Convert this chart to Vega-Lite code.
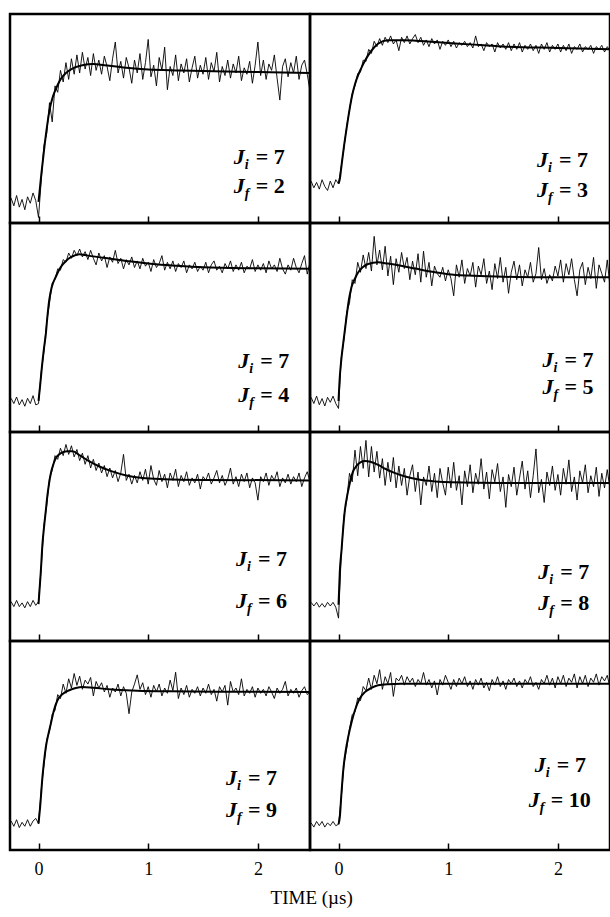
{
"$schema":"https://vega.github.io/schema/vega-lite/v6.json",
"background":"white",
"padding":{"left":8,"top":12,"right":0,"bottom":0},
"title":{"text":"TIME (µs)","orient":"bottom","anchor":"middle","font":"Liberation Serif","fontSize":19,"fontWeight":"normal","color":"black","offset":10},
"datasets":{
"A":[{"t":-0.25,"v":0.03},{"t":-0.225,"v":-0.03},{"t":-0.2,"v":0.05},{"t":-0.175,"v":-0.04},{"t":-0.15,"v":0.02},{"t":-0.125,"v":-0.06},{"t":-0.1,"v":0.04},{"t":-0.075,"v":-0.01},{"t":-0.05,"v":0.07},{"t":-0.025,"v":0.01},
{"t":0,"v":-0.12},{"t":0.025,"v":0.17},{"t":0.05,"v":0.44},{"t":0.075,"v":0.53},{"t":0.1,"v":0.77},{"t":0.125,"v":0.62},{"t":0.15,"v":0.9},{"t":0.175,"v":0.85},{"t":0.2,"v":1.02},{"t":0.225,"v":0.93},
{"t":0.25,"v":1.08},{"t":0.275,"v":0.95},{"t":0.3,"v":1.11},{"t":0.325,"v":0.99},{"t":0.35,"v":1.14},{"t":0.375,"v":1.0},{"t":0.4,"v":1.16},{"t":0.425,"v":1.03},{"t":0.45,"v":1.12},{"t":0.475,"v":0.98},
{"t":0.5,"v":1.15},{"t":0.525,"v":1.02},{"t":0.55,"v":1.1},{"t":0.575,"v":0.99},{"t":0.6,"v":1.13},{"t":0.625,"v":1.05},{"t":0.65,"v":0.94},{"t":0.675,"v":1.11},{"t":0.7,"v":1.24},{"t":0.725,"v":1.0},
{"t":0.75,"v":1.09},{"t":0.775,"v":0.96},{"t":0.8,"v":1.12},{"t":0.825,"v":1.04},{"t":0.85,"v":0.92},{"t":0.875,"v":1.1},{"t":0.9,"v":1.0},{"t":0.925,"v":1.15},{"t":0.95,"v":0.95},{"t":0.975,"v":1.08},
{"t":1,"v":1.26},{"t":1.025,"v":0.97},{"t":1.05,"v":1.06},{"t":1.075,"v":0.9},{"t":1.1,"v":1.12},{"t":1.125,"v":1.02},{"t":1.15,"v":1.2},{"t":1.175,"v":0.87},{"t":1.2,"v":1.05},{"t":1.225,"v":0.98},
{"t":1.25,"v":1.14},{"t":1.275,"v":0.94},{"t":1.3,"v":1.07},{"t":1.325,"v":1.0},{"t":1.35,"v":1.11},{"t":1.375,"v":0.93},{"t":1.4,"v":1.04},{"t":1.425,"v":1.13},{"t":1.45,"v":0.96},{"t":1.475,"v":1.06},
{"t":1.5,"v":0.99},{"t":1.525,"v":1.12},{"t":1.55,"v":0.95},{"t":1.575,"v":1.08},{"t":1.6,"v":1.01},{"t":1.625,"v":1.16},{"t":1.65,"v":0.93},{"t":1.675,"v":1.05},{"t":1.7,"v":0.98},{"t":1.725,"v":1.1},
{"t":1.75,"v":0.96},{"t":1.775,"v":1.07},{"t":1.8,"v":1.0},{"t":1.825,"v":1.13},{"t":1.85,"v":0.94},{"t":1.875,"v":1.04},{"t":1.9,"v":0.99},{"t":1.925,"v":1.09},{"t":1.95,"v":0.92},{"t":1.975,"v":1.06},
{"t":2,"v":1.24},{"t":2.025,"v":0.98},{"t":2.05,"v":1.1},{"t":2.075,"v":0.95},{"t":2.1,"v":1.07},{"t":2.125,"v":1.02},{"t":2.15,"v":1.14},{"t":2.175,"v":0.96},{"t":2.2,"v":0.79},{"t":2.225,"v":1.05},
{"t":2.25,"v":1.11},{"t":2.275,"v":0.97},{"t":2.3,"v":1.08},{"t":2.325,"v":1.0},{"t":2.35,"v":1.13},{"t":2.375,"v":0.95},{"t":2.4,"v":1.06},{"t":2.425,"v":1.1},{"t":2.45,"v":0.99},{"t":2.475,"v":0.86}],
"B":[{"t":-0.25,"v":0.02},{"t":-0.225,"v":-0.03},{"t":-0.2,"v":0.01},{"t":-0.175,"v":-0.04},{"t":-0.15,"v":0.03},{"t":-0.125,"v":-0.02},{"t":-0.1,"v":-0.05},{"t":-0.075,"v":0.02},{"t":-0.05,"v":-0.03},{"t":-0.025,"v":0.03},
{"t":0,"v":0.0},{"t":0.025,"v":0.13},{"t":0.05,"v":0.27},{"t":0.075,"v":0.43},{"t":0.1,"v":0.55},{"t":0.125,"v":0.67},{"t":0.15,"v":0.73},{"t":0.175,"v":0.82},{"t":0.2,"v":0.83},{"t":0.225,"v":0.92},
{"t":0.25,"v":0.91},{"t":0.275,"v":1.0},{"t":0.3,"v":0.97},{"t":0.325,"v":1.06},{"t":0.35,"v":1.02},{"t":0.375,"v":1.08},{"t":0.4,"v":1.03},{"t":0.425,"v":1.09},{"t":0.45,"v":1.05},{"t":0.475,"v":1.1},
{"t":0.5,"v":1.04},{"t":0.525,"v":1.07},{"t":0.55,"v":0.99},{"t":0.575,"v":1.09},{"t":0.6,"v":1.05},{"t":0.625,"v":1.1},{"t":0.65,"v":1.04},{"t":0.675,"v":1.08},{"t":0.7,"v":1.11},{"t":0.725,"v":1.05},
{"t":0.75,"v":1.09},{"t":0.775,"v":1.03},{"t":0.8,"v":1.07},{"t":0.825,"v":1.02},{"t":0.85,"v":1.08},{"t":0.875,"v":1.04},{"t":0.9,"v":1.07},{"t":0.925,"v":1.0},{"t":0.95,"v":1.06},{"t":0.975,"v":1.03},
{"t":1,"v":1.07},{"t":1.025,"v":1.02},{"t":1.05,"v":1.06},{"t":1.075,"v":1.01},{"t":1.1,"v":1.05},{"t":1.125,"v":1.03},{"t":1.15,"v":1.06},{"t":1.175,"v":1.02},{"t":1.2,"v":1.05},{"t":1.225,"v":1.01},
{"t":1.25,"v":1.1},{"t":1.275,"v":1.02},{"t":1.3,"v":1.04},{"t":1.325,"v":0.99},{"t":1.35,"v":1.05},{"t":1.375,"v":1.02},{"t":1.4,"v":1.04},{"t":1.425,"v":0.98},{"t":1.45,"v":1.05},{"t":1.475,"v":1.01},
{"t":1.5,"v":1.04},{"t":1.525,"v":1.0},{"t":1.55,"v":1.05},{"t":1.575,"v":0.99},{"t":1.6,"v":1.04},{"t":1.625,"v":1.0},{"t":1.65,"v":1.05},{"t":1.675,"v":0.98},{"t":1.7,"v":1.03},{"t":1.725,"v":1.0},
{"t":1.75,"v":1.04},{"t":1.775,"v":0.99},{"t":1.8,"v":1.03},{"t":1.825,"v":0.97},{"t":1.85,"v":1.04},{"t":1.875,"v":1.0},{"t":1.9,"v":1.05},{"t":1.925,"v":0.98},{"t":1.95,"v":1.03},{"t":1.975,"v":1.0},
{"t":2,"v":1.04},{"t":2.025,"v":0.98},{"t":2.05,"v":1.03},{"t":2.075,"v":0.99},{"t":2.1,"v":1.04},{"t":2.125,"v":0.97},{"t":2.15,"v":1.02},{"t":2.175,"v":1.0},{"t":2.2,"v":1.04},{"t":2.225,"v":0.98},
{"t":2.25,"v":1.02},{"t":2.275,"v":1.0},{"t":2.3,"v":1.03},{"t":2.325,"v":0.97},{"t":2.35,"v":1.02},{"t":2.375,"v":1.0},{"t":2.4,"v":1.03},{"t":2.425,"v":0.98},{"t":2.45,"v":1.02},{"t":2.475,"v":0.99}],
"C":[{"t":-0.25,"v":0.02},{"t":-0.225,"v":-0.02},{"t":-0.2,"v":0.03},{"t":-0.175,"v":-0.03},{"t":-0.15,"v":0.01},{"t":-0.125,"v":-0.04},{"t":-0.1,"v":0.02},{"t":-0.075,"v":-0.02},{"t":-0.05,"v":0.04},{"t":-0.025,"v":-0.03},
{"t":0,"v":-0.02},{"t":0.025,"v":0.22},{"t":0.05,"v":0.38},{"t":0.075,"v":0.6},{"t":0.1,"v":0.74},{"t":0.125,"v":0.89},{"t":0.15,"v":0.92},{"t":0.175,"v":1.0},{"t":0.2,"v":0.99},{"t":0.225,"v":1.07},
{"t":0.25,"v":1.05},{"t":0.275,"v":1.12},{"t":0.3,"v":1.08},{"t":0.325,"v":1.14},{"t":0.35,"v":1.1},{"t":0.375,"v":1.15},{"t":0.4,"v":1.09},{"t":0.425,"v":1.13},{"t":0.45,"v":1.07},{"t":0.475,"v":1.14},
{"t":0.5,"v":1.08},{"t":0.525,"v":1.03},{"t":0.55,"v":1.12},{"t":0.575,"v":1.06},{"t":0.6,"v":1.1},{"t":0.625,"v":1.01},{"t":0.65,"v":1.09},{"t":0.675,"v":1.05},{"t":0.7,"v":1.14},{"t":0.725,"v":1.04},
{"t":0.75,"v":1.08},{"t":0.775,"v":1.0},{"t":0.8,"v":1.07},{"t":0.825,"v":1.03},{"t":0.85,"v":1.09},{"t":0.875,"v":1.01},{"t":0.9,"v":1.06},{"t":0.925,"v":1.0},{"t":0.95,"v":1.08},{"t":0.975,"v":1.02},
{"t":1,"v":1.05},{"t":1.025,"v":0.98},{"t":1.05,"v":1.07},{"t":1.075,"v":1.01},{"t":1.1,"v":1.04},{"t":1.125,"v":1.1},{"t":1.15,"v":0.99},{"t":1.175,"v":1.05},{"t":1.2,"v":1.0},{"t":1.225,"v":1.06},
{"t":1.25,"v":0.98},{"t":1.275,"v":1.04},{"t":1.3,"v":1.01},{"t":1.325,"v":1.06},{"t":1.35,"v":0.97},{"t":1.375,"v":1.03},{"t":1.4,"v":1.0},{"t":1.425,"v":1.05},{"t":1.45,"v":0.98},{"t":1.475,"v":1.02},
{"t":1.5,"v":0.99},{"t":1.525,"v":1.05},{"t":1.55,"v":0.97},{"t":1.575,"v":1.03},{"t":1.6,"v":1.06},{"t":1.625,"v":0.99},{"t":1.65,"v":1.02},{"t":1.675,"v":0.97},{"t":1.7,"v":1.04},{"t":1.725,"v":1.0},
{"t":1.75,"v":1.06},{"t":1.775,"v":0.98},{"t":1.8,"v":1.03},{"t":1.825,"v":0.99},{"t":1.85,"v":1.05},{"t":1.875,"v":0.97},{"t":1.9,"v":1.02},{"t":1.925,"v":1.0},{"t":1.95,"v":1.07},{"t":1.975,"v":0.98},
{"t":2,"v":1.03},{"t":2.025,"v":0.99},{"t":2.05,"v":1.04},{"t":2.075,"v":0.97},{"t":2.1,"v":1.06},{"t":2.125,"v":1.0},{"t":2.15,"v":1.03},{"t":2.175,"v":0.98},{"t":2.2,"v":1.08},{"t":2.225,"v":1.0},
{"t":2.25,"v":0.96},{"t":2.275,"v":1.03},{"t":2.3,"v":0.99},{"t":2.325,"v":1.08},{"t":2.35,"v":1.01},{"t":2.375,"v":0.97},{"t":2.4,"v":1.04},{"t":2.425,"v":1.1},{"t":2.45,"v":0.96},{"t":2.475,"v":1.05}],
"D":[{"t":-0.25,"v":0.03},{"t":-0.225,"v":-0.02},{"t":-0.2,"v":0.04},{"t":-0.175,"v":-0.03},{"t":-0.15,"v":0.02},{"t":-0.125,"v":-0.04},{"t":-0.1,"v":0.03},{"t":-0.075,"v":-0.01},{"t":-0.05,"v":0.04},{"t":-0.025,"v":-0.02},
{"t":0,"v":-0.06},{"t":0.025,"v":0.35},{"t":0.05,"v":0.5},{"t":0.075,"v":0.72},{"t":0.1,"v":0.79},{"t":0.125,"v":0.98},{"t":0.15,"v":0.95},{"t":0.175,"v":1.12},{"t":0.2,"v":1.04},{"t":0.225,"v":1.18},
{"t":0.25,"v":1.07},{"t":0.275,"v":1.2},{"t":0.3,"v":1.05},{"t":0.325,"v":1.33},{"t":0.35,"v":1.1},{"t":0.375,"v":1.22},{"t":0.4,"v":1.06},{"t":0.425,"v":1.25},{"t":0.45,"v":1.01},{"t":0.475,"v":1.17},
{"t":0.5,"v":0.94},{"t":0.525,"v":1.15},{"t":0.55,"v":1.04},{"t":0.575,"v":1.2},{"t":0.6,"v":1.07},{"t":0.625,"v":1.16},{"t":0.65,"v":0.98},{"t":0.675,"v":1.13},{"t":0.7,"v":1.02},{"t":0.725,"v":1.19},
{"t":0.75,"v":0.96},{"t":0.775,"v":1.21},{"t":0.8,"v":1.0},{"t":0.825,"v":1.12},{"t":0.85,"v":0.93},{"t":0.875,"v":1.09},{"t":0.9,"v":1.03},{"t":0.925,"v":1.0},{"t":0.95,"v":1.08},{"t":0.975,"v":0.97},
{"t":1,"v":1.06},{"t":1.025,"v":0.99},{"t":1.05,"v":0.85},{"t":1.075,"v":1.1},{"t":1.1,"v":1.0},{"t":1.125,"v":1.14},{"t":1.15,"v":0.95},{"t":1.175,"v":1.07},{"t":1.2,"v":1.01},{"t":1.225,"v":1.12},
{"t":1.25,"v":0.92},{"t":1.275,"v":1.09},{"t":1.3,"v":1.02},{"t":1.325,"v":1.15},{"t":1.35,"v":0.95},{"t":1.375,"v":1.05},{"t":1.4,"v":0.9},{"t":1.425,"v":1.11},{"t":1.45,"v":0.99},{"t":1.475,"v":1.16},
{"t":1.5,"v":0.96},{"t":1.525,"v":1.08},{"t":1.55,"v":0.87},{"t":1.575,"v":1.04},{"t":1.6,"v":1.13},{"t":1.625,"v":0.98},{"t":1.65,"v":1.1},{"t":1.675,"v":0.93},{"t":1.7,"v":1.06},{"t":1.725,"v":1.0},
{"t":1.75,"v":1.12},{"t":1.775,"v":0.96},{"t":1.8,"v":1.03},{"t":1.825,"v":1.24},{"t":1.85,"v":0.98},{"t":1.875,"v":1.07},{"t":1.9,"v":0.95},{"t":1.925,"v":1.02},{"t":1.95,"v":0.97},{"t":1.975,"v":1.09},
{"t":2,"v":1.01},{"t":2.025,"v":1.14},{"t":2.05,"v":0.96},{"t":2.075,"v":1.11},{"t":2.1,"v":1.02},{"t":2.125,"v":1.15},{"t":2.15,"v":0.98},{"t":2.175,"v":0.85},{"t":2.2,"v":1.06},{"t":2.225,"v":1.12},
{"t":2.25,"v":0.94},{"t":2.275,"v":1.08},{"t":2.3,"v":0.99},{"t":2.325,"v":1.16},{"t":2.35,"v":0.91},{"t":2.375,"v":1.1},{"t":2.4,"v":1.03},{"t":2.425,"v":0.96},{"t":2.45,"v":1.14},{"t":2.475,"v":0.92}],
"E":[{"t":-0.25,"v":0.02},{"t":-0.225,"v":-0.02},{"t":-0.2,"v":0.03},{"t":-0.175,"v":-0.02},{"t":-0.15,"v":0.01},{"t":-0.125,"v":-0.03},{"t":-0.1,"v":0.02},{"t":-0.075,"v":-0.02},{"t":-0.05,"v":0.03},{"t":-0.025,"v":-0.01},
{"t":0,"v":0.02},{"t":0.025,"v":0.3},{"t":0.05,"v":0.64},{"t":0.075,"v":0.8},{"t":0.1,"v":1.02},{"t":0.125,"v":1.08},{"t":0.15,"v":1.2},{"t":0.175,"v":1.17},{"t":0.2,"v":1.26},{"t":0.225,"v":1.2},
{"t":0.25,"v":1.29},{"t":0.275,"v":1.21},{"t":0.3,"v":1.28},{"t":0.325,"v":1.19},{"t":0.35,"v":1.25},{"t":0.375,"v":1.16},{"t":0.4,"v":1.22},{"t":0.425,"v":1.13},{"t":0.45,"v":1.2},{"t":0.475,"v":1.1},
{"t":0.5,"v":1.17},{"t":0.525,"v":1.08},{"t":0.55,"v":1.14},{"t":0.575,"v":1.06},{"t":0.6,"v":1.12},{"t":0.625,"v":1.03},{"t":0.65,"v":1.1},{"t":0.675,"v":1.02},{"t":0.7,"v":1.08},{"t":0.725,"v":0.99},
{"t":0.75,"v":1.06},{"t":0.775,"v":1.21},{"t":0.8,"v":1.0},{"t":0.825,"v":1.05},{"t":0.85,"v":0.97},{"t":0.875,"v":1.04},{"t":0.9,"v":0.98},{"t":0.925,"v":1.07},{"t":0.95,"v":1.0},{"t":0.975,"v":1.09},
{"t":1,"v":0.97},{"t":1.025,"v":1.12},{"t":1.05,"v":1.01},{"t":1.075,"v":0.96},{"t":1.1,"v":1.08},{"t":1.125,"v":0.99},{"t":1.15,"v":1.05},{"t":1.175,"v":0.94},{"t":1.2,"v":1.06},{"t":1.225,"v":1.0},
{"t":1.25,"v":1.09},{"t":1.275,"v":0.95},{"t":1.3,"v":1.04},{"t":1.325,"v":0.99},{"t":1.35,"v":1.07},{"t":1.375,"v":0.96},{"t":1.4,"v":1.02},{"t":1.425,"v":0.98},{"t":1.45,"v":1.05},{"t":1.475,"v":0.93},
{"t":1.5,"v":1.03},{"t":1.525,"v":1.0},{"t":1.55,"v":1.06},{"t":1.575,"v":0.97},{"t":1.6,"v":1.02},{"t":1.625,"v":1.08},{"t":1.65,"v":0.98},{"t":1.675,"v":1.04},{"t":1.7,"v":0.96},{"t":1.725,"v":1.01},
{"t":1.75,"v":1.1},{"t":1.775,"v":0.97},{"t":1.8,"v":1.03},{"t":1.825,"v":0.95},{"t":1.85,"v":1.05},{"t":1.875,"v":0.99},{"t":1.9,"v":1.06},{"t":1.925,"v":0.94},{"t":1.95,"v":1.02},{"t":1.975,"v":0.98},
{"t":2,"v":0.84},{"t":2.025,"v":1.03},{"t":2.05,"v":0.99},{"t":2.075,"v":1.06},{"t":2.1,"v":0.96},{"t":2.125,"v":1.04},{"t":2.15,"v":1.0},{"t":2.175,"v":1.07},{"t":2.2,"v":0.95},{"t":2.225,"v":1.02},
{"t":2.25,"v":0.98},{"t":2.275,"v":1.05},{"t":2.3,"v":0.97},{"t":2.325,"v":1.03},{"t":2.35,"v":0.99},{"t":2.375,"v":1.06},{"t":2.4,"v":0.95},{"t":2.425,"v":1.02},{"t":2.45,"v":1.07},{"t":2.475,"v":0.99}],
"F":[{"t":-0.25,"v":0.02},{"t":-0.225,"v":-0.01},{"t":-0.2,"v":0.02},{"t":-0.175,"v":-0.02},{"t":-0.15,"v":0.01},{"t":-0.125,"v":-0.02},{"t":-0.1,"v":0.02},{"t":-0.075,"v":-0.01},{"t":-0.05,"v":0.02},{"t":-0.025,"v":-0.02},
{"t":0,"v":-0.11},{"t":0.025,"v":0.41},{"t":0.05,"v":0.73},{"t":0.075,"v":0.86},{"t":0.1,"v":1.08},{"t":0.125,"v":1.01},{"t":0.15,"v":1.27},{"t":0.175,"v":1.06},{"t":0.2,"v":1.3},{"t":0.225,"v":1.12},
{"t":0.25,"v":1.35},{"t":0.275,"v":1.05},{"t":0.3,"v":1.3},{"t":0.325,"v":1.09},{"t":0.35,"v":1.26},{"t":0.375,"v":1.04},{"t":0.4,"v":1.2},{"t":0.425,"v":0.98},{"t":0.45,"v":1.17},{"t":0.475,"v":1.01},
{"t":0.5,"v":1.21},{"t":0.525,"v":0.96},{"t":0.55,"v":1.14},{"t":0.575,"v":0.98},{"t":0.6,"v":1.12},{"t":0.625,"v":0.9},{"t":0.65,"v":1.06},{"t":0.675,"v":1.15},{"t":0.7,"v":0.93},{"t":0.725,"v":1.09},
{"t":0.75,"v":0.82},{"t":0.775,"v":1.05},{"t":0.8,"v":0.98},{"t":0.825,"v":1.14},{"t":0.85,"v":0.93},{"t":0.875,"v":1.08},{"t":0.9,"v":0.88},{"t":0.925,"v":1.12},{"t":0.95,"v":1.0},{"t":0.975,"v":0.9},
{"t":1,"v":1.13},{"t":1.025,"v":0.96},{"t":1.05,"v":1.17},{"t":1.075,"v":0.94},{"t":1.1,"v":1.06},{"t":1.125,"v":0.82},{"t":1.15,"v":1.1},{"t":1.175,"v":0.97},{"t":1.2,"v":1.15},{"t":1.225,"v":0.92},
{"t":1.25,"v":1.08},{"t":1.275,"v":0.99},{"t":1.3,"v":1.2},{"t":1.325,"v":0.95},{"t":1.35,"v":1.09},{"t":1.375,"v":0.87},{"t":1.4,"v":1.11},{"t":1.425,"v":1.01},{"t":1.45,"v":1.16},{"t":1.475,"v":0.93},
{"t":1.5,"v":1.05},{"t":1.525,"v":0.8},{"t":1.55,"v":1.07},{"t":1.575,"v":0.97},{"t":1.6,"v":1.13},{"t":1.625,"v":0.9},{"t":1.65,"v":1.04},{"t":1.675,"v":1.18},{"t":1.7,"v":0.95},{"t":1.725,"v":1.1},
{"t":1.75,"v":0.88},{"t":1.775,"v":1.06},{"t":1.8,"v":1.28},{"t":1.825,"v":0.92},{"t":1.85,"v":1.03},{"t":1.875,"v":0.84},{"t":1.9,"v":1.09},{"t":1.925,"v":0.98},{"t":1.95,"v":1.14},{"t":1.975,"v":0.94},
{"t":2,"v":1.07},{"t":2.025,"v":0.9},{"t":2.05,"v":1.12},{"t":2.075,"v":0.99},{"t":2.1,"v":1.19},{"t":2.125,"v":0.93},{"t":2.15,"v":1.05},{"t":2.175,"v":0.86},{"t":2.2,"v":1.1},{"t":2.225,"v":1.0},
{"t":2.25,"v":1.15},{"t":2.275,"v":0.92},{"t":2.3,"v":1.06},{"t":2.325,"v":0.97},{"t":2.35,"v":1.13},{"t":2.375,"v":0.89},{"t":2.4,"v":1.08},{"t":2.425,"v":0.96},{"t":2.45,"v":1.11},{"t":2.475,"v":0.95}],
"G":[{"t":-0.25,"v":0.02},{"t":-0.225,"v":-0.02},{"t":-0.2,"v":0.03},{"t":-0.175,"v":-0.03},{"t":-0.15,"v":0.01},{"t":-0.125,"v":-0.02},{"t":-0.1,"v":0.03},{"t":-0.075,"v":-0.02},{"t":-0.05,"v":0.02},{"t":-0.025,"v":0.04},
{"t":0,"v":0.0},{"t":0.025,"v":0.26},{"t":0.05,"v":0.45},{"t":0.075,"v":0.64},{"t":0.1,"v":0.7},{"t":0.125,"v":0.83},{"t":0.15,"v":0.86},{"t":0.175,"v":0.98},{"t":0.2,"v":0.95},{"t":0.225,"v":1.06},
{"t":0.25,"v":0.99},{"t":0.275,"v":1.1},{"t":0.3,"v":1.03},{"t":0.325,"v":1.14},{"t":0.35,"v":1.05},{"t":0.375,"v":1.12},{"t":0.4,"v":1.02},{"t":0.425,"v":1.09},{"t":0.45,"v":1.06},{"t":0.475,"v":1.11},
{"t":0.5,"v":0.97},{"t":0.525,"v":1.08},{"t":0.55,"v":1.03},{"t":0.575,"v":1.07},{"t":0.6,"v":1.0},{"t":0.625,"v":1.05},{"t":0.65,"v":0.96},{"t":0.675,"v":1.03},{"t":0.7,"v":1.0},{"t":0.725,"v":1.06},
{"t":0.75,"v":0.97},{"t":0.775,"v":1.04},{"t":0.8,"v":0.99},{"t":0.825,"v":0.835},{"t":0.85,"v":1.0},{"t":0.875,"v":1.06},{"t":0.9,"v":1.13},{"t":0.925,"v":1.02},{"t":0.95,"v":1.07},{"t":0.975,"v":0.98},
{"t":1,"v":1.04},{"t":1.025,"v":0.96},{"t":1.05,"v":1.05},{"t":1.075,"v":1.0},{"t":1.1,"v":1.06},{"t":1.125,"v":0.97},{"t":1.15,"v":1.03},{"t":1.175,"v":0.99},{"t":1.2,"v":1.09},{"t":1.225,"v":1.01},
{"t":1.25,"v":1.15},{"t":1.275,"v":0.95},{"t":1.3,"v":1.03},{"t":1.325,"v":0.98},{"t":1.35,"v":1.05},{"t":1.375,"v":0.96},{"t":1.4,"v":1.02},{"t":1.425,"v":0.99},{"t":1.45,"v":1.04},{"t":1.475,"v":0.97},
{"t":1.5,"v":1.03},{"t":1.525,"v":0.99},{"t":1.55,"v":1.06},{"t":1.575,"v":0.98},{"t":1.6,"v":1.02},{"t":1.625,"v":0.93},{"t":1.65,"v":1.04},{"t":1.675,"v":1.0},{"t":1.7,"v":1.05},{"t":1.725,"v":0.9},
{"t":1.75,"v":1.08},{"t":1.775,"v":1.0},{"t":1.8,"v":1.03},{"t":1.825,"v":0.98},{"t":1.85,"v":1.1},{"t":1.875,"v":0.97},{"t":1.9,"v":1.02},{"t":1.925,"v":0.99},{"t":1.95,"v":1.04},{"t":1.975,"v":0.96},
{"t":2,"v":1.03},{"t":2.025,"v":0.99},{"t":2.05,"v":1.02},{"t":2.075,"v":0.97},{"t":2.1,"v":1.04},{"t":2.125,"v":1.0},{"t":2.15,"v":0.95},{"t":2.175,"v":1.03},{"t":2.2,"v":0.99},{"t":2.225,"v":1.02},
{"t":2.25,"v":1.08},{"t":2.275,"v":0.97},{"t":2.3,"v":1.02},{"t":2.325,"v":0.99},{"t":2.35,"v":1.03},{"t":2.375,"v":0.96},{"t":2.4,"v":1.01},{"t":2.425,"v":1.04},{"t":2.45,"v":0.98},{"t":2.475,"v":1.0}],
"H":[{"t":-0.25,"v":0.01},{"t":-0.225,"v":-0.02},{"t":-0.2,"v":0.02},{"t":-0.175,"v":-0.01},{"t":-0.15,"v":0.02},{"t":-0.125,"v":-0.02},{"t":-0.1,"v":0.01},{"t":-0.075,"v":-0.01},{"t":-0.05,"v":0.02},{"t":-0.025,"v":-0.01},
{"t":0,"v":0.0},{"t":0.025,"v":0.19},{"t":0.05,"v":0.43},{"t":0.075,"v":0.54},{"t":0.1,"v":0.68},{"t":0.125,"v":0.78},{"t":0.15,"v":0.8},{"t":0.175,"v":0.9},{"t":0.2,"v":0.88},{"t":0.225,"v":0.98},
{"t":0.25,"v":0.95},{"t":0.275,"v":1.04},{"t":0.3,"v":0.96},{"t":0.325,"v":1.06},{"t":0.35,"v":1.0},{"t":0.375,"v":1.1},{"t":0.4,"v":0.96},{"t":0.425,"v":1.05},{"t":0.45,"v":1.0},{"t":0.475,"v":1.08},
{"t":0.5,"v":0.91},{"t":0.525,"v":1.04},{"t":0.55,"v":1.02},{"t":0.575,"v":1.06},{"t":0.6,"v":0.99},{"t":0.625,"v":1.05},{"t":0.65,"v":1.01},{"t":0.675,"v":1.04},{"t":0.7,"v":0.98},{"t":0.725,"v":1.03},
{"t":0.75,"v":1.0},{"t":0.775,"v":1.08},{"t":0.8,"v":0.99},{"t":0.825,"v":1.03},{"t":0.85,"v":0.97},{"t":0.875,"v":1.02},{"t":0.9,"v":0.92},{"t":0.925,"v":1.03},{"t":0.95,"v":0.99},{"t":0.975,"v":1.06},
{"t":1,"v":1.01},{"t":1.025,"v":0.96},{"t":1.05,"v":1.03},{"t":1.075,"v":0.98},{"t":1.1,"v":1.04},{"t":1.125,"v":1.0},{"t":1.15,"v":1.05},{"t":1.175,"v":0.98},{"t":1.2,"v":1.02},{"t":1.225,"v":0.96},
{"t":1.25,"v":1.03},{"t":1.275,"v":0.99},{"t":1.3,"v":1.04},{"t":1.325,"v":0.97},{"t":1.35,"v":1.01},{"t":1.375,"v":0.95},{"t":1.4,"v":1.03},{"t":1.425,"v":0.99},{"t":1.45,"v":1.05},{"t":1.475,"v":0.98},
{"t":1.5,"v":1.02},{"t":1.525,"v":0.96},{"t":1.55,"v":1.03},{"t":1.575,"v":1.0},{"t":1.6,"v":1.04},{"t":1.625,"v":0.98},{"t":1.65,"v":1.02},{"t":1.675,"v":0.97},{"t":1.7,"v":1.03},{"t":1.725,"v":1.0},
{"t":1.75,"v":1.05},{"t":1.775,"v":0.98},{"t":1.8,"v":1.01},{"t":1.825,"v":0.96},{"t":1.85,"v":1.03},{"t":1.875,"v":1.0},{"t":1.9,"v":1.06},{"t":1.925,"v":0.99},{"t":1.95,"v":1.04},{"t":1.975,"v":0.97},
{"t":2,"v":1.05},{"t":2.025,"v":1.0},{"t":2.05,"v":1.06},{"t":2.075,"v":0.98},{"t":2.1,"v":1.04},{"t":2.125,"v":1.01},{"t":2.15,"v":1.07},{"t":2.175,"v":0.97},{"t":2.2,"v":1.05},{"t":2.225,"v":1.0},
{"t":2.25,"v":1.06},{"t":2.275,"v":0.98},{"t":2.3,"v":1.04},{"t":2.325,"v":1.01},{"t":2.35,"v":1.07},{"t":2.375,"v":0.99},{"t":2.4,"v":1.05},{"t":2.425,"v":1.02},{"t":2.45,"v":1.06},{"t":2.475,"v":0.97}],
"Af":[{"t":0,"v":0},{"t":0.025,"v":0.21},{"t":0.05,"v":0.4},{"t":0.075,"v":0.57},{"t":0.1,"v":0.71},{"t":0.125,"v":0.8},{"t":0.15,"v":0.86},{"t":0.2,"v":0.95},{"t":0.25,"v":1.0},{"t":0.3,"v":1.03},{"t":0.4,"v":1.06},{"t":0.5,"v":1.07},{"t":0.6,"v":1.06},{"t":0.8,"v":1.04},{"t":1.0,"v":1.027},{"t":1.3,"v":1.02},{"t":1.6,"v":1.013},{"t":2.0,"v":1.007},{"t":2.475,"v":1.0}],
"Bf":[{"t":0,"v":0},{"t":0.012,"v":0.037},{"t":0.025,"v":0.12},{"t":0.05,"v":0.28},{"t":0.075,"v":0.42},{"t":0.1,"v":0.55},{"t":0.125,"v":0.66},{"t":0.15,"v":0.74},{"t":0.18,"v":0.81},{"t":0.225,"v":0.89},{"t":0.27,"v":0.955},{"t":0.32,"v":1.01},{"t":0.36,"v":1.042},{"t":0.45,"v":1.067},{"t":0.6,"v":1.068},{"t":0.88,"v":1.054},{"t":1.2,"v":1.037},{"t":1.49,"v":1.022},{"t":2.0,"v":1.01},{"t":2.475,"v":1.0}],
"Cf":[{"t":0,"v":0},{"t":0.015,"v":0.12},{"t":0.03,"v":0.25},{"t":0.05,"v":0.4},{"t":0.067,"v":0.51},{"t":0.08,"v":0.63},{"t":0.097,"v":0.76},{"t":0.12,"v":0.86},{"t":0.158,"v":0.94},{"t":0.2,"v":1.01},{"t":0.25,"v":1.06},{"t":0.3,"v":1.09},{"t":0.37,"v":1.11},{"t":0.45,"v":1.1},{"t":0.67,"v":1.075},{"t":0.85,"v":1.055},{"t":1.04,"v":1.037},{"t":1.25,"v":1.024},{"t":1.5,"v":1.012},{"t":2.0,"v":1.004},{"t":2.475,"v":1.0}],
"Df":[{"t":0,"v":0},{"t":0.012,"v":0.2},{"t":0.025,"v":0.33},{"t":0.043,"v":0.467},{"t":0.073,"v":0.68},{"t":0.095,"v":0.82},{"t":0.118,"v":0.92},{"t":0.15,"v":0.99},{"t":0.18,"v":1.04},{"t":0.22,"v":1.08},{"t":0.27,"v":1.107},{"t":0.36,"v":1.12},{"t":0.45,"v":1.11},{"t":0.57,"v":1.093},{"t":0.7,"v":1.07},{"t":0.88,"v":1.04},{"t":1.0,"v":1.025},{"t":1.18,"v":1.013},{"t":1.5,"v":1.004},{"t":1.79,"v":1.0},{"t":2.475,"v":1.0}],
"Ef":[{"t":0,"v":0},{"t":0.02,"v":0.25},{"t":0.036,"v":0.487},{"t":0.05,"v":0.62},{"t":0.067,"v":0.76},{"t":0.08,"v":0.87},{"t":0.097,"v":0.98},{"t":0.113,"v":1.06},{"t":0.128,"v":1.11},{"t":0.158,"v":1.18},{"t":0.204,"v":1.22},{"t":0.26,"v":1.235},{"t":0.31,"v":1.235},{"t":0.38,"v":1.2},{"t":0.46,"v":1.155},{"t":0.56,"v":1.11},{"t":0.67,"v":1.073},{"t":0.8,"v":1.04},{"t":0.95,"v":1.019},{"t":1.15,"v":1.01},{"t":1.5,"v":1.004},{"t":2.475,"v":1.0}],
"Ff":[{"t":0,"v":0},{"t":0.012,"v":0.278},{"t":0.027,"v":0.444},{"t":0.04,"v":0.6},{"t":0.058,"v":0.778},{"t":0.08,"v":0.9},{"t":0.103,"v":1.0},{"t":0.13,"v":1.09},{"t":0.164,"v":1.14},{"t":0.2,"v":1.17},{"t":0.24,"v":1.18},{"t":0.29,"v":1.175},{"t":0.36,"v":1.15},{"t":0.43,"v":1.115},{"t":0.51,"v":1.083},{"t":0.6,"v":1.055},{"t":0.73,"v":1.028},{"t":0.88,"v":1.013},{"t":1.03,"v":1.006},{"t":1.5,"v":1.001},{"t":2.475,"v":1.0}],
"Gf":[{"t":0,"v":0},{"t":0.015,"v":0.13},{"t":0.036,"v":0.355},{"t":0.05,"v":0.47},{"t":0.067,"v":0.582},{"t":0.09,"v":0.68},{"t":0.112,"v":0.759},{"t":0.14,"v":0.86},{"t":0.173,"v":0.937},{"t":0.22,"v":0.985},{"t":0.28,"v":1.013},{"t":0.34,"v":1.03},{"t":0.4,"v":1.038},{"t":0.5,"v":1.032},{"t":0.67,"v":1.018},{"t":0.9,"v":1.01},{"t":1.19,"v":1.005},{"t":1.8,"v":1.001},{"t":2.475,"v":1.0}],
"Hf":[{"t":0,"v":0},{"t":0.012,"v":0.052},{"t":0.025,"v":0.2},{"t":0.043,"v":0.384},{"t":0.065,"v":0.52},{"t":0.088,"v":0.62},{"t":0.12,"v":0.73},{"t":0.149,"v":0.81},{"t":0.19,"v":0.89},{"t":0.24,"v":0.94},{"t":0.3,"v":0.97},{"t":0.36,"v":0.989},{"t":0.45,"v":0.997},{"t":0.57,"v":1.0},{"t":2.475,"v":1.0}],
"L":[{"p":"A","t":1.78,"v":0.297,"s":"i","r":"= 7"},{"p":"A","t":1.78,"v":0.072,"s":"f","r":"= 2"},
{"p":"B","t":1.81,"v":0.124,"s":"i","r":"= 7"},{"p":"B","t":1.81,"v":-0.099,"s":"f","r":"= 3"},
{"p":"C","t":1.82,"v":0.253,"s":"i","r":"= 7"},{"p":"C","t":1.82,"v":-0.01,"s":"f","r":"= 4"},
{"p":"D","t":1.86,"v":0.278,"s":"i","r":"= 7"},{"p":"D","t":1.86,"v":0.054,"s":"f","r":"= 5"},
{"p":"E","t":1.8,"v":0.309,"s":"i","r":"= 7"},{"p":"E","t":1.8,"v":-0.035,"s":"f","r":"= 6"},
{"p":"F","t":1.82,"v":0.211,"s":"i","r":"= 7"},{"p":"F","t":1.82,"v":-0.039,"s":"f","r":"= 8"},
{"p":"G","t":1.71,"v":0.294,"s":"i","r":"= 7"},{"p":"G","t":1.71,"v":0.051,"s":"f","r":"= 9"},
{"p":"H","t":1.79,"v":0.372,"s":"i","r":"= 7"},{"p":"H","t":1.735,"v":0.123,"s":"f","r":"= 10"}]
},
"columns":2,
"spacing":0,
"bounds":"flush",
"concat":[
{"width":300,"height":209,"encoding":{"x":{"field":"t","type":"quantitative","title":null,"scale":{"domain":[-0.26,2.475],"nice":false},"axis":{"values":[0,1,2]}},"y":{"field":"v","type":"quantitative","title":null,"scale":{"domain":[-0.163,1.457],"nice":false,"zero":false},"axis":null}},
"layer":[{"data":{"name":"A"},"mark":{"type":"line","strokeWidth":0.9}},{"data":{"name":"Af"},"mark":{"type":"line","strokeWidth":2,"interpolate":"monotone"}},
{"data":{"name":"L"},"transform":[{"filter":"datum.p=='A'"}],"layer":[{"mark":{"type":"text","font":"Liberation Serif","fontSize":22,"fontStyle":"italic"},"encoding":{"text":{"value":"J"}}},{"mark":{"type":"text","font":"Liberation Serif","fontSize":14,"fontStyle":"italic","dx":11,"dy":5},"encoding":{"text":{"field":"s"}}},{"mark":{"type":"text","font":"Liberation Serif","fontSize":22,"dx":22},"encoding":{"text":{"field":"r"}}}]}]},
{"width":300,"height":209,"encoding":{"x":{"field":"t","type":"quantitative","title":null,"scale":{"domain":[-0.26,2.475],"nice":false},"axis":{"values":[0,1,2]}},"y":{"field":"v","type":"quantitative","title":null,"scale":{"domain":[-0.292,1.263],"nice":false,"zero":false},"axis":null}},
"layer":[{"data":{"name":"B"},"mark":{"type":"line","strokeWidth":0.9}},{"data":{"name":"Bf"},"mark":{"type":"line","strokeWidth":2,"interpolate":"monotone"}},
{"data":{"name":"L"},"transform":[{"filter":"datum.p=='B'"}],"layer":[{"mark":{"type":"text","font":"Liberation Serif","fontSize":22,"fontStyle":"italic"},"encoding":{"text":{"value":"J"}}},{"mark":{"type":"text","font":"Liberation Serif","fontSize":14,"fontStyle":"italic","dx":11,"dy":5},"encoding":{"text":{"field":"s"}}},{"mark":{"type":"text","font":"Liberation Serif","fontSize":22,"dx":22},"encoding":{"text":{"field":"r"}}}]}]},
{"width":300,"height":209,"encoding":{"x":{"field":"t","type":"quantitative","title":null,"scale":{"domain":[-0.26,2.475],"nice":false},"axis":{"values":[0,1,2]}},"y":{"field":"v","type":"quantitative","title":null,"scale":{"domain":[-0.235,1.347],"nice":false,"zero":false},"axis":null}},
"layer":[{"data":{"name":"C"},"mark":{"type":"line","strokeWidth":0.9}},{"data":{"name":"Cf"},"mark":{"type":"line","strokeWidth":2,"interpolate":"monotone"}},
{"data":{"name":"L"},"transform":[{"filter":"datum.p=='C'"}],"layer":[{"mark":{"type":"text","font":"Liberation Serif","fontSize":22,"fontStyle":"italic"},"encoding":{"text":{"value":"J"}}},{"mark":{"type":"text","font":"Liberation Serif","fontSize":14,"fontStyle":"italic","dx":11,"dy":5},"encoding":{"text":{"field":"s"}}},{"mark":{"type":"text","font":"Liberation Serif","fontSize":22,"dx":22},"encoding":{"text":{"field":"r"}}}]}]},
{"width":300,"height":209,"encoding":{"x":{"field":"t","type":"quantitative","title":null,"scale":{"domain":[-0.26,2.475],"nice":false},"axis":{"values":[0,1,2]}},"y":{"field":"v","type":"quantitative","title":null,"scale":{"domain":[-0.25,1.438],"nice":false,"zero":false},"axis":null}},
"layer":[{"data":{"name":"D"},"mark":{"type":"line","strokeWidth":0.9}},{"data":{"name":"Df"},"mark":{"type":"line","strokeWidth":2,"interpolate":"monotone"}},
{"data":{"name":"L"},"transform":[{"filter":"datum.p=='D'"}],"layer":[{"mark":{"type":"text","font":"Liberation Serif","fontSize":22,"fontStyle":"italic"},"encoding":{"text":{"value":"J"}}},{"mark":{"type":"text","font":"Liberation Serif","fontSize":14,"fontStyle":"italic","dx":11,"dy":5},"encoding":{"text":{"field":"s"}}},{"mark":{"type":"text","font":"Liberation Serif","fontSize":22,"dx":22},"encoding":{"text":{"field":"r"}}}]}]},
{"width":300,"height":209,"encoding":{"x":{"field":"t","type":"quantitative","title":null,"scale":{"domain":[-0.26,2.475],"nice":false},"axis":{"values":[0,1,2]}},"y":{"field":"v","type":"quantitative","title":null,"scale":{"domain":[-0.298,1.391],"nice":false,"zero":false},"axis":null}},
"layer":[{"data":{"name":"E"},"mark":{"type":"line","strokeWidth":0.9}},{"data":{"name":"Ef"},"mark":{"type":"line","strokeWidth":2,"interpolate":"monotone"}},
{"data":{"name":"L"},"transform":[{"filter":"datum.p=='E'"}],"layer":[{"mark":{"type":"text","font":"Liberation Serif","fontSize":22,"fontStyle":"italic"},"encoding":{"text":{"value":"J"}}},{"mark":{"type":"text","font":"Liberation Serif","fontSize":14,"fontStyle":"italic","dx":11,"dy":5},"encoding":{"text":{"field":"s"}}},{"mark":{"type":"text","font":"Liberation Serif","fontSize":22,"dx":22},"encoding":{"text":{"field":"r"}}}]}]},
{"width":300,"height":209,"encoding":{"x":{"field":"t","type":"quantitative","title":null,"scale":{"domain":[-0.26,2.475],"nice":false},"axis":{"values":[0,1,2]}},"y":{"field":"v","type":"quantitative","title":null,"scale":{"domain":[-0.2975,1.419],"nice":false,"zero":false},"axis":null}},
"layer":[{"data":{"name":"F"},"mark":{"type":"line","strokeWidth":0.9}},{"data":{"name":"Ff"},"mark":{"type":"line","strokeWidth":2,"interpolate":"monotone"}},
{"data":{"name":"L"},"transform":[{"filter":"datum.p=='F'"}],"layer":[{"mark":{"type":"text","font":"Liberation Serif","fontSize":22,"fontStyle":"italic"},"encoding":{"text":{"value":"J"}}},{"mark":{"type":"text","font":"Liberation Serif","fontSize":14,"fontStyle":"italic","dx":11,"dy":5},"encoding":{"text":{"field":"s"}}},{"mark":{"type":"text","font":"Liberation Serif","fontSize":22,"dx":22},"encoding":{"text":{"field":"r"}}}]}]},
{"width":300,"height":209,"encoding":{"x":{"field":"t","type":"quantitative","title":null,"scale":{"domain":[-0.26,2.475],"nice":false},"axis":{"values":[0,1,2],"labels":true}},"y":{"field":"v","type":"quantitative","title":null,"scale":{"domain":[-0.2,1.387],"nice":false,"zero":false},"axis":null}},
"layer":[{"data":{"name":"G"},"mark":{"type":"line","strokeWidth":0.9}},{"data":{"name":"Gf"},"mark":{"type":"line","strokeWidth":2,"interpolate":"monotone"}},
{"data":{"name":"L"},"transform":[{"filter":"datum.p=='G'"}],"layer":[{"mark":{"type":"text","font":"Liberation Serif","fontSize":22,"fontStyle":"italic"},"encoding":{"text":{"value":"J"}}},{"mark":{"type":"text","font":"Liberation Serif","fontSize":14,"fontStyle":"italic","dx":11,"dy":5},"encoding":{"text":{"field":"s"}}},{"mark":{"type":"text","font":"Liberation Serif","fontSize":22,"dx":22},"encoding":{"text":{"field":"r"}}}]}]},
{"width":300,"height":209,"encoding":{"x":{"field":"t","type":"quantitative","title":null,"scale":{"domain":[-0.26,2.475],"nice":false},"axis":{"values":[0,1,2],"labels":true}},"y":{"field":"v","type":"quantitative","title":null,"scale":{"domain":[-0.183,1.304],"nice":false,"zero":false},"axis":null}},
"layer":[{"data":{"name":"H"},"mark":{"type":"line","strokeWidth":0.9}},{"data":{"name":"Hf"},"mark":{"type":"line","strokeWidth":2,"interpolate":"monotone"}},
{"data":{"name":"L"},"transform":[{"filter":"datum.p=='H'"}],"layer":[{"mark":{"type":"text","font":"Liberation Serif","fontSize":22,"fontStyle":"italic"},"encoding":{"text":{"value":"J"}}},{"mark":{"type":"text","font":"Liberation Serif","fontSize":14,"fontStyle":"italic","dx":11,"dy":5},"encoding":{"text":{"field":"s"}}},{"mark":{"type":"text","font":"Liberation Serif","fontSize":22,"dx":22},"encoding":{"text":{"field":"r"}}}]}]}
],
"config":{
"view":{"stroke":"black","strokeWidth":2.5},
"concat":{"spacing":0},
"line":{"color":"black"},
"text":{"font":"Liberation Serif","fontWeight":"bold","align":"left","baseline":"alphabetic","color":"black"},
"axisX":{"offset":-7,"tickSize":7,"domain":false,"grid":false,"labels":false,"labelFlush":false,"tickColor":"black","tickWidth":1.5,"labelFont":"Liberation Serif","labelFontSize":18,"labelColor":"black","labelPadding":10}
}
}
